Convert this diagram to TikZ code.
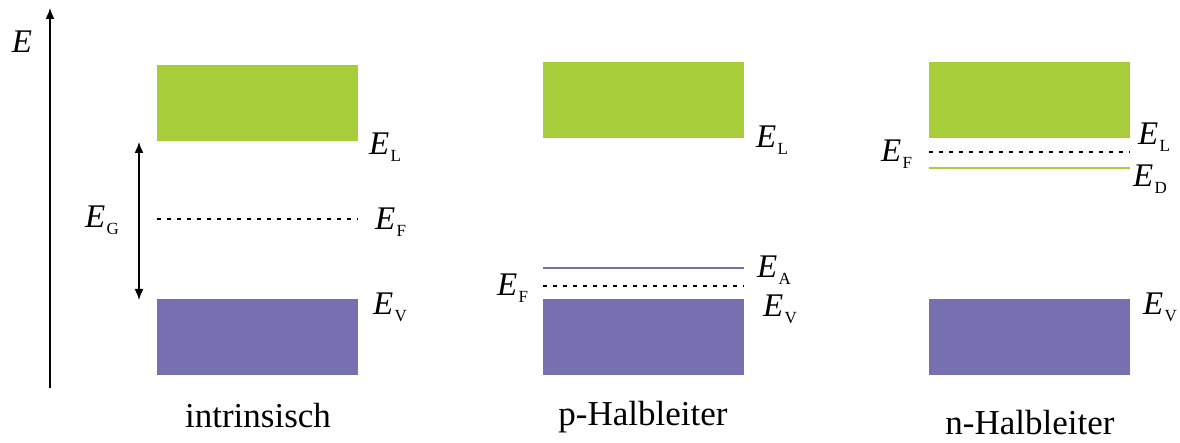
\documentclass[tikz,border=0pt]{standalone}
\usepackage{fontspec}
\setmainfont{Liberation Serif}
\usetikzlibrary{arrows.meta}
\definecolor{cband}{HTML}{A8CD3A}
\definecolor{vband}{HTML}{7670B0}
\newcommand{\En}[1]{{\fontsize{33}{33}\selectfont\itshape E}\kern1.5pt\raisebox{-7pt}{\fontsize{17}{17}\selectfont #1}}
\tikzset{
  lbl/.style={anchor=base west, inner sep=0pt, outer sep=0pt},
  captxt/.style={anchor=base, inner sep=0pt, font=\fontsize{35}{35}\selectfont},
  condband/.style={fill=cband, draw=none, anchor=north west, minimum width=201pt, minimum height=76pt, inner sep=0pt},
  valband/.style={fill=vband, draw=none, anchor=north west, minimum width=201pt, minimum height=76pt, inner sep=0pt},
  fermi/.style={line width=1.4pt, dash pattern=on 4pt off 6pt},
  level/.style={line width=1.4pt},
  arr/.style={line width=1.5pt, -{Latex[length=11pt,width=9pt]}},
  darr/.style={line width=1.5pt, {Latex[length=11pt,width=9pt]}-{Latex[length=11pt,width=9pt]}}
}
\begin{document}
\begin{tikzpicture}[x=1pt,y=-1pt]
\useasboundingbox (0,0) rectangle (1180,443);
% axis
\coordinate (ax0) at (50,388);
\coordinate (ax1) at (50,8);
\draw[arr] (ax0) -- (ax1);
\node[lbl] (axE) at (12,53) {\fontsize{33}{33}\selectfont\itshape E};
% intrinsic
\node[condband] (cb1) at (157,65) {};
\node[valband] (vb1) at (157,299) {};
\coordinate (f1a) at (157,219);
\coordinate (f1b) at (358,219);
\draw[fermi] (f1a) -- (f1b);
\coordinate (g1) at (139,142);
\coordinate (g2) at (139,300);
\draw[darr] (g2) -- (g1);
\node[lbl] (EG) at (85,228) {\En{G}};
\node[lbl] (EL1) at (369,155) {\En{L}};
\node[lbl] (EF1) at (375,230) {\En{F}};
\node[lbl] (EV1) at (373,315) {\En{V}};
\node[captxt] (t1) at (258,427) {intrinsisch};
% p-type
\node[condband] (cb2) at (543,62) {};
\node[valband] (vb2) at (543,299) {};
\coordinate (a2a) at (543,268);
\coordinate (a2b) at (744,268);
\draw[level, draw=vband] (a2a) -- (a2b);
\coordinate (f2a) at (543,286);
\coordinate (f2b) at (744,286);
\draw[fermi] (f2a) -- (f2b);
\node[lbl] (EL2) at (756,148) {\En{L}};
\node[lbl] (EA2) at (757,278) {\En{A}};
\node[lbl] (EV2) at (763,317) {\En{V}};
\node[lbl] (EF2) at (497,296) {\En{F}};
\node[captxt] (t2) at (643,425) {p-Halbleiter};
% n-type
\node[condband] (cb3) at (929,62) {};
\node[valband] (vb3) at (929,299) {};
\coordinate (f3a) at (929,152);
\coordinate (f3b) at (1130,152);
\draw[fermi] (f3a) -- (f3b);
\coordinate (d3a) at (929,168);
\coordinate (d3b) at (1130,168);
\draw[level, draw=cband] (d3a) -- (d3b);
\node[lbl] (EL3) at (1138,145) {\En{L}};
\node[lbl] (ED3) at (1133,187) {\En{D}};
\node[lbl] (EF3) at (881,162) {\En{F}};
\node[lbl] (EV3) at (1143,315) {\En{V}};
\node[captxt] (t3) at (1030,434) {n-Halbleiter};
\end{tikzpicture}
\end{document}
